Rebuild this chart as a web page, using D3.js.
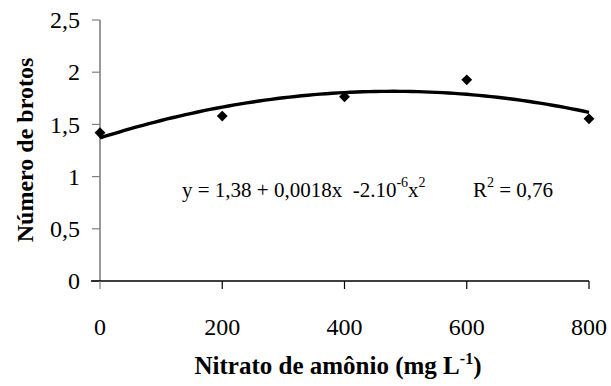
<!DOCTYPE html>
<html>
<head>
<meta charset="utf-8">
<script src="https://cdn.jsdelivr.net/npm/d3@7"></script>
<style>
  html, body { margin: 0; padding: 0; background: #fff; }
  svg { display: block; }
  text { font-family: "Liberation Serif", "Times New Roman", serif; fill: #000; white-space: pre; }
</style>
</head>
<body>
<svg id="chart" width="611" height="386"></svg>
<script>
// Ammonium nitrate dose (mg/L) and mean number of shoots
const doses = [0, 200, 400, 600, 800];
const shoots = [1.42, 1.58, 1.765, 1.927, 1.553];
const xTicks = [0, 200, 400, 600, 800];
const yTicks = [0, 0.5, 1, 1.5, 2, 2.5];

const svg = d3.select("#chart");

const x = d3.scaleLinear().domain([0, 800]).range([100, 589]);
const y = d3.scaleLinear().domain([0, 2.5]).range([281, 20]);

const fmt = d => String(d).replace(".", ",");

// Least-squares quadratic trend through the observed points
function quadFit(xs, ys) {
  const n = xs.length;
  const S = [0, 0, 0, 0, 0], T = [0, 0, 0];
  for (let i = 0; i < n; i++) {
    let p = 1;
    for (let k = 0; k < 5; k++) { S[k] += p; if (k < 3) T[k] += p * ys[i]; p *= xs[i]; }
  }
  const A = [[S[0], S[1], S[2], T[0]], [S[1], S[2], S[3], T[1]], [S[2], S[3], S[4], T[2]]];
  for (let c = 0; c < 3; c++) {
    for (let r = c + 1; r < 3; r++) {
      const f = A[r][c] / A[c][c];
      for (let k = c; k < 4; k++) A[r][k] -= f * A[c][k];
    }
  }
  const b = [0, 0, 0];
  for (let r = 2; r >= 0; r--) {
    let s = A[r][3];
    for (let k = r + 1; k < 3; k++) s -= A[r][k] * b[k];
    b[r] = s / A[r][r];
  }
  return b;
}
const coef = quadFit(doses, shoots);
const trend = d3.range(0, 801, 10).map(v => [v, coef[0] + coef[1] * v + coef[2] * v * v]);

// Y axis (grey) with ticks
const yAxis = svg.append("g");
yAxis.append("line").attr("x1", 100).attr("x2", 100).attr("y1", y(2.5)).attr("y2", y(0) + 1)
  .attr("stroke", "#808080").attr("stroke-width", 1.6);
yAxis.selectAll("line.t").data(yTicks).join("line").attr("class", "t")
  .attr("x1", 92).attr("x2", 100).attr("y1", d => y(d)).attr("y2", d => y(d))
  .attr("stroke", "#808080").attr("stroke-width", 1.2);
yAxis.selectAll("text").data(yTicks).join("text")
  .attr("x", 80).attr("y", d => y(d)).attr("dy", "0.34em")
  .attr("text-anchor", "end").attr("font-size", 24).text(fmt);

// X axis (black) with downward ticks
const xAxis = svg.append("g");
xAxis.append("line").attr("x1", 91).attr("x2", x(800)).attr("y1", y(0)).attr("y2", y(0))
  .attr("stroke", "#000").attr("stroke-width", 1.4);
xAxis.selectAll("line.t").data(xTicks).join("line").attr("class", "t")
  .attr("x1", d => x(d)).attr("x2", d => x(d)).attr("y1", y(0)).attr("y2", y(0) + 8)
  .attr("stroke", d => d === 0 ? "#808080" : "#000").attr("stroke-width", 1.2);
xAxis.selectAll("text").data(xTicks).join("text")
  .attr("x", d => x(d)).attr("y", 335)
  .attr("text-anchor", "middle").attr("font-size", 24).text(d => d);

// Trend curve
svg.append("path").datum(trend)
  .attr("d", d3.line().x(d => x(d[0])).y(d => y(d[1])))
  .attr("fill", "none").attr("stroke", "#000").attr("stroke-width", 3.4);

// Observed points as diamonds
svg.selectAll("path.pt").data(doses).join("path").attr("class", "pt")
  .attr("d", d3.symbol().type(d3.symbolDiamond2).size(75))
  .attr("transform", (d, i) => `translate(${x(d)},${y(shoots[i])})`)
  .attr("fill", "#000");

// Regression equation and R²
const eq = svg.append("text").attr("x", 182).attr("y", 197).attr("font-size", 21);
eq.append("tspan").text("y = 1,38 + 0,0018x  -2.10");
eq.append("tspan").attr("font-size", 14).attr("dy", -10).text("-6");
eq.append("tspan").attr("dy", 10).text("x");
eq.append("tspan").attr("font-size", 14).attr("dy", -10).text("2");
const r2 = svg.append("text").attr("x", 473).attr("y", 197).attr("font-size", 21);
r2.append("tspan").text("R");
r2.append("tspan").attr("font-size", 14).attr("dy", -10).text("2");
r2.append("tspan").attr("dy", 10).text(" = 0,76");

// Axis titles
const xt = svg.append("text").attr("x", 338).attr("y", 374).attr("text-anchor", "middle")
  .attr("font-size", 25).attr("font-weight", "bold");
xt.append("tspan").text("Nitrato de amônio (mg L");
xt.append("tspan").attr("font-size", 16).attr("dy", -10).text("-1");
xt.append("tspan").attr("dy", 10).text(")");

svg.append("text").attr("transform", "translate(33,150) rotate(-90)")
  .attr("text-anchor", "middle").attr("font-size", 24).attr("font-weight", "bold")
  .text("Número de brotos");
</script>
</body>
</html>
